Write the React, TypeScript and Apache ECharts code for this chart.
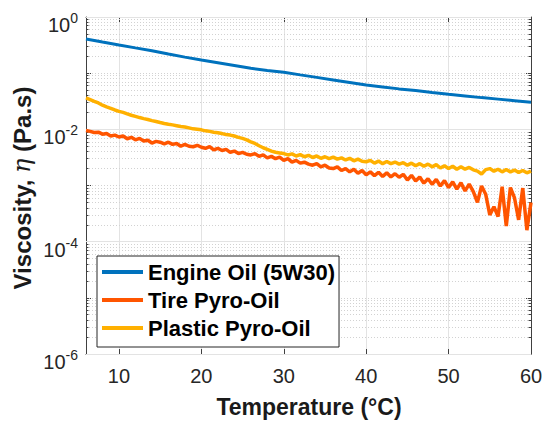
import React, { useEffect, useRef } from 'react';
import * as echarts from 'echarts';

const FONT = '"Liberation Sans", Arial, Helvetica, sans-serif';

const seriesNames = ['Engine Oil (5W30)', 'Tire Pyro-Oil', 'Plastic Pyro-Oil'];
const seriesColors = ['#0072BD', '#FF5500', '#FFB000'];

// Engine oil: temperature (°C) and viscosity (Pa.s)
const engineTemps = [6, 8, 10, 12, 14, 16, 18, 20, 22, 24, 26, 28, 30, 32, 34, 36, 38, 40, 42, 44, 46, 48, 50, 52, 54, 56, 58, 60];
const engineOil = [0.406, 0.359, 0.318, 0.282, 0.251, 0.219, 0.193, 0.171, 0.153, 0.137, 0.122, 0.112, 0.104, 0.0933, 0.0841, 0.0759, 0.0684, 0.0615, 0.0569, 0.0525, 0.049, 0.0452, 0.0421, 0.0394, 0.0367, 0.0345, 0.0324, 0.0303];

// Pyro-oils sampled every 0.5 °C from 6 to 60 °C
const pyroTemps = Array.from({ length: 109 }, (_, i) => 6 + i * 0.5);

// Tire pyro-oil viscosity (mPa.s)
const tireOil = [
  9.5, 9.2, 8.8, 8.9, 8.2, 8.4, 7.6, 7.9, 7.3, 7.6,
  6.8, 7.2, 6.5, 6.9, 6.2, 6.4, 5.7, 6.1, 5.9, 5.5,
  5.9, 5.4, 5.6, 5.0, 5.4, 5.0, 4.9, 5.2, 4.8, 4.6,
  4.9, 4.3, 4.6, 4.2, 4.4, 3.9, 4.1, 3.7, 3.9, 3.6,
  3.5, 3.7, 3.3, 3.5, 3.1, 3.3, 3.0, 3.2, 2.8, 3.0,
  2.6, 2.8, 2.5, 2.6, 2.4, 2.3, 2.45, 2.15, 2.3, 2.05,
  2.0, 2.15, 1.85, 2.0, 1.75, 1.95, 1.65, 1.85, 1.55, 1.75,
  1.5, 1.72, 1.45, 1.68, 1.42, 1.62, 1.4, 1.58, 1.25, 1.52,
  1.2, 1.42, 1.1, 1.32, 1.05, 1.28, 0.98, 1.22, 0.92, 1.16,
  0.86, 1.12, 0.8, 1.06, 0.78, 0.5, 0.98, 0.7, 0.3, 0.42,
  0.28, 0.95, 0.19, 0.92, 0.6, 0.245, 0.9, 0.16, 0.5,
];

// Plastic pyro-oil viscosity (mPa.s)
const plasticOil = [
  36.3, 33.9, 31.6, 29.5, 26.9, 25.1, 23.7, 22.1, 20.9, 20.0,
  18.8, 17.8, 17.0, 16.2, 15.5, 15.0, 14.3, 13.8, 13.2, 12.7,
  12.3, 12.0, 11.6, 11.2, 11.0, 10.6, 10.2, 10.0, 9.8, 9.4,
  9.2, 8.9, 8.7, 8.4, 8.1, 7.9, 7.6, 7.2, 6.9, 6.5,
  6.0, 5.6, 5.1, 4.7, 4.4, 4.1, 3.9, 3.8, 3.7, 3.5,
  3.65, 3.35, 3.55, 3.25, 3.45, 3.15, 3.35, 3.05, 3.25, 3.0,
  3.2, 2.95, 3.1, 2.85, 3.05, 2.75, 2.95, 2.7, 2.65, 2.8,
  2.5, 2.72, 2.45, 2.68, 2.45, 2.62, 2.4, 2.55, 2.3, 2.5,
  2.25, 2.45, 2.2, 2.4, 2.15, 2.35, 2.05, 2.25, 2.0, 2.2,
  1.95, 2.15, 1.95, 2.1, 1.9, 1.8, 1.6, 1.92, 2.0, 1.8,
  1.95, 1.75, 1.92, 1.75, 1.88, 1.7, 1.85, 1.68, 1.8,
];

const xMin = 6;
const xMax = 60;
const yMin = 1e-6;
const yMax = 1;
const yLabelDecades = [0, -2, -4, -6];

export default function App() {
  const ref = useRef<HTMLDivElement>(null);

  useEffect(() => {
    if (!ref.current) return;
    const chart = echarts.init(ref.current, null, { renderer: 'svg' });

    const majorVals = yLabelDecades.map((e) => Math.pow(10, e));
    const minorVals: number[] = [];
    for (let n = -6; n <= -1; n++) {
      for (let k = 1; k <= 9; k++) {
        if (k === 1 && n % 2 === 0) continue;
        minorVals.push(k * Math.pow(10, n));
      }
    }

    const axisColor = '#404040';
    const tickLen = 0.5;

    const gridSeries = {
      name: '__grid',
      type: 'line',
      data: [],
      silent: true,
      z: 1,
      markLine: {
        silent: true,
        z: 1,
        precision: 12,
        symbol: ['none', 'none'],
        label: { show: false },
        animation: false,
        data: [
          ...minorVals.map((v) => ({ yAxis: v, lineStyle: { type: [1, 2], color: '#d2d2d2', width: 1 } })),
          ...majorVals.map((v) => ({ yAxis: v, lineStyle: { type: 'solid', color: '#e3e3e3', width: 1 } })),
          ...minorVals.map((v) => [
            { coord: [xMin, v], lineStyle: { type: 'solid', color: axisColor, width: 1 } },
            { coord: [xMin + tickLen * 0.6, v] },
          ]),
          ...minorVals.map((v) => [
            { coord: [xMax - tickLen * 0.6, v], lineStyle: { type: 'solid', color: axisColor, width: 1 } },
            { coord: [xMax, v] },
          ]),
        ],
      },
    };

    const mkLine = (i: number, xs: number[], ys: number[], scale: number, width: number) => ({
      name: seriesNames[i],
      type: 'line',
      z: 3,
      showSymbol: false,
      symbol: 'none',
      clip: true,
      color: seriesColors[i],
      lineStyle: { color: seriesColors[i], width },
      data: xs.map((x, j) => [x, ys[j] * scale]),
    });

    const yLabelFormatter = (v: number) => {
      const e = Math.round(Math.log10(v));
      if (e % 2 !== 0) return '';
      return `{b|10}{s|${e}}`;
    };

    const option: any = {
      animation: false,
      backgroundColor: '#ffffff',
      grid: { left: 86, top: 17, width: 445, height: 337, containLabel: false },
      legend: {
        data: seriesNames,
        orient: 'vertical',
        left: 97,
        top: 256,
        z: 10,
        padding: [2, 4, 5, 5],
        itemGap: 0,
        itemWidth: 41,
        itemHeight: 4,
        itemTextGap: 4,
        icon: 'rect',
        selectedMode: false,
        backgroundColor: '#ffffff',
        borderColor: '#262626',
        borderWidth: 1,
        borderRadius: 0,
        textStyle: {
          fontSize: 22,
          fontWeight: 'bold',
          fontFamily: FONT,
          color: '#000000',
          lineHeight: 28,
        },
      },
      xAxis: [
        {
          type: 'value',
          min: xMin,
          max: xMax,
          position: 'bottom',
          axisLine: { show: true, lineStyle: { color: axisColor, width: 1 } },
          axisTick: { show: true, inside: true, length: 5, lineStyle: { color: axisColor } },
          axisLabel: {
            show: true,
            showMinLabel: false,
            margin: 12,
            color: '#262626',
            fontSize: 20,
            fontFamily: FONT,
            formatter: (v: number) => (v % 10 === 0 ? String(v) : ''),
          },
          splitLine: { show: true, lineStyle: { color: '#e3e3e3', width: 1 } },
        },
        {
          type: 'value',
          min: xMin,
          max: xMax,
          position: 'top',
          axisLine: { show: true, lineStyle: { color: axisColor, width: 1 } },
          axisTick: { show: true, inside: true, length: 5, lineStyle: { color: axisColor } },
          axisLabel: { show: false },
          splitLine: { show: false },
        },
      ],
      yAxis: [
        {
          type: 'log',
          logBase: 10,
          min: yMin,
          max: yMax,
          position: 'left',
          axisLine: { show: true, lineStyle: { color: axisColor, width: 1 } },
          axisTick: { show: true, inside: true, length: 5, lineStyle: { color: axisColor } },
          minorTick: { show: false },
          splitLine: { show: false },
          axisLabel: {
            show: true,
            margin: 8,
            padding: [12, 0, 0, 0],
            formatter: yLabelFormatter,
            rich: {
              b: { fontSize: 20, fontFamily: FONT, color: '#262626', lineHeight: 24, verticalAlign: 'bottom' },
              s: { fontSize: 14, fontFamily: FONT, color: '#262626', lineHeight: 8, verticalAlign: 'top' },
            },
          },
        },
        {
          type: 'log',
          logBase: 10,
          min: yMin,
          max: yMax,
          position: 'right',
          axisLine: { show: true, lineStyle: { color: axisColor, width: 1 } },
          axisTick: { show: true, inside: true, length: 5, lineStyle: { color: axisColor } },
          axisLabel: { show: false },
          splitLine: { show: false },
        },
      ],
      graphic: [
        {
          type: 'text',
          x: 309,
          y: 407,
          silent: true,
          style: {
            text: 'Temperature (°C)',
            fontSize: 23,
            fontWeight: 'bold',
            fontFamily: FONT,
            fill: '#1a1a1a',
            align: 'center',
            verticalAlign: 'middle',
          },
        },
        {
          type: 'text',
          x: 22,
          y: 188,
          rotation: Math.PI / 2,
          silent: true,
          style: {
            text: '{b|Viscosity, }{e|η}{b| (Pa.s)}',
            align: 'center',
            verticalAlign: 'middle',
            rich: {
              b: { fontSize: 24, fontWeight: 'bold', fontFamily: FONT, fill: '#1a1a1a' },
              e: { fontSize: 24, fontStyle: 'italic', fontFamily: '"DejaVu Serif", "Liberation Serif", serif', fill: '#1a1a1a' },
            },
          },
        },
      ],
      series: [
        gridSeries,
        mkLine(0, engineTemps, engineOil, 1, 3),
        mkLine(1, pyroTemps, tireOil, 0.001, 3.5),
        mkLine(2, pyroTemps, plasticOil, 0.001, 3.5),
      ],
    };

    chart.setOption(option);
    return () => chart.dispose();
  }, []);

  return (
    <div
      ref={ref}
      style={{ position: 'fixed', left: 0, top: 0, width: 550, height: 427, background: '#fff' }}
    />
  );
}
